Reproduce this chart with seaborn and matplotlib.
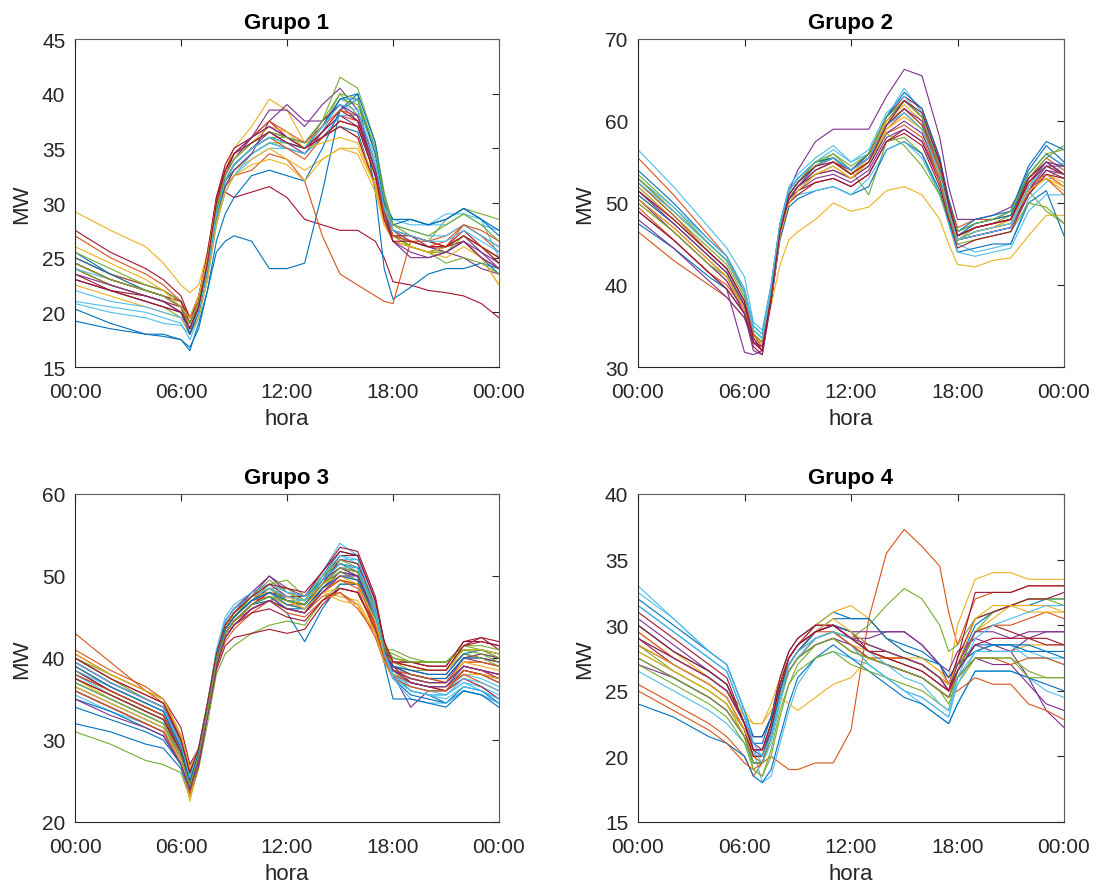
import matplotlib
matplotlib.use("Agg")
import matplotlib.pyplot as plt
import seaborn as sns
import pandas as pd

# ---------------- data ----------------
horas = [0, 2, 4, 5, 6, 6.5, 7, 7.5, 8, 8.5, 9, 10, 11, 12, 13, 14, 15, 16, 17, 17.5, 18, 19, 20, 21, 22, 23, 24]
tick_pos = [0, 6, 12, 18, 24]
tick_labels = ["00:00", "06:00", "12:00", "18:00", "00:00"]
titulos = ["Grupo 1", "Grupo 2", "Grupo 3", "Grupo 4"]

grupo1 = [
    [25.5, 23.5, 22.5, 22, 21, 19.5, 21, 24.5, 29, 32, 33, 34.5, 35.5, 35, 34.5, 36, 37, 36.5, 31.5, 28.5, 27, 26.5, 26, 25.5, 26.5, 25, 23.5],
    [27, 25, 23.5, 22.5, 21, 19.5, 21.5, 25.5, 30, 32.5, 34, 35.5, 36.5, 36, 35, 36.5, 38, 37.5, 33, 29.5, 27.5, 27, 26.5, 27, 28, 27, 25.5],
    [29.2, 27.5, 26, 24.5, 22.5, 21.8, 22.5, 25.5, 30, 33, 35, 37, 39.5, 38.5, 35.5, 36, 37, 36, 32, 28.5, 27, 26, 25.5, 26, 26.5, 25, 22.5],
    [24, 22.5, 21.5, 21, 20, 18, 20.5, 24.5, 29.5, 32.5, 34, 36, 38.5, 38.5, 37, 39, 40.5, 38.5, 33.5, 30, 27.5, 27, 26, 25.5, 25, 24, 23.5],
    [23, 22, 21, 20.5, 19.5, 18, 20, 24, 29, 32, 33.5, 35, 36, 36, 35, 37.5, 41.5, 40.5, 35.5, 31, 28, 27, 26.5, 28.5, 29.5, 29, 28.5],
    [20.8, 20, 19.5, 19, 18.8, 18, 19.5, 23, 28, 31, 32.5, 34, 35, 35, 34.5, 36.5, 39.5, 39.5, 34.5, 30, 28.5, 28.5, 28, 29, 29, 28, 27.5],
    [27.5, 25.5, 24, 23, 21.5, 19.5, 21.5, 25, 30, 31, 30.5, 31, 31.5, 30.5, 28.5, 28, 27.5, 27.5, 26.5, 25, 22.8, 22.5, 22, 21.8, 21.5, 20.8, 19.5],
    [20.3, 19, 18, 18, 17.5, 16.5, 19, 22, 25.5, 26.5, 27, 26.5, 24, 24, 24.5, 31, 38.5, 40, 31, 24, 21.2, 22.3, 23.5, 24, 24, 24.5, 24],
    [24, 22.5, 21.5, 21, 20, 18.5, 20.5, 24, 29, 31.5, 32.5, 33, 34.5, 34, 32, 27, 23.5, 22.5, 21.5, 21, 20.8, 26.5, 26.5, 26, 27, 26, 25],
    [25, 23.5, 22, 21.5, 20.5, 19, 20.5, 23.5, 28.5, 31.5, 33, 34, 35, 34, 33, 34, 35, 34.5, 31, 28, 27, 26, 25.5, 25, 26, 25, 22.5],
    [24.5, 23, 22, 21.5, 20.5, 18.5, 20.5, 24, 29, 32, 33.5, 35, 36.5, 35.5, 34.5, 36.5, 38, 37, 32.5, 29, 27.5, 26.5, 26, 26, 27, 25.5, 24],
    [24, 22.5, 21.5, 21, 20, 18.5, 20.5, 23.5, 28.5, 31.5, 33, 34.5, 35.5, 35.5, 35, 37, 39.5, 39, 34.5, 30, 27.5, 26, 25.5, 24.5, 25, 24.5, 23.5],
    [21, 20.5, 20, 19.5, 19, 17.5, 19.5, 23, 28, 31, 32.5, 34.5, 35.5, 35, 34.5, 36, 38, 38, 33.5, 29.5, 28.5, 28, 28, 28, 29, 28.5, 25],
    [23.5, 22, 21.5, 21, 20.5, 19.5, 21, 25, 30.5, 33.5, 35, 36, 37, 36, 35, 36, 37, 36, 31.5, 28.5, 26.5, 26, 25.5, 26, 26.5, 25, 24],
    [19.2, 18.5, 18, 17.8, 17.5, 16.8, 18.5, 22, 26.5, 29, 30.5, 32.5, 33, 32.5, 32, 35, 38.5, 39.5, 34.5, 30, 28.5, 28.5, 28, 28.5, 29.5, 28.5, 27],
    [25, 23.5, 22.5, 22, 21, 19, 21, 24.5, 29.5, 32, 33.5, 35, 36, 35, 34, 36, 37.5, 37, 32.5, 29, 27, 26.5, 26, 26, 28, 27, 26],
    [22.5, 21.5, 20.5, 20, 19.5, 18, 19.5, 23, 28, 31, 32.5, 33.5, 34, 33.5, 32, 34, 35, 35, 31.5, 28.5, 26.5, 26, 25.5, 25.5, 26.5, 25, 24],
    [23, 22, 21, 20.5, 20, 18, 20, 24, 29, 31.5, 33, 34.5, 37.5, 39, 37.5, 37.5, 39, 37.5, 32.5, 29, 26.5, 25, 25, 25.5, 26.5, 25, 24],
    [25.5, 24, 22.5, 22, 21, 19, 20.5, 24, 29, 32, 33.5, 35, 36, 35.5, 35, 37, 40, 38, 32.5, 29, 27, 26, 25.5, 25.5, 27, 26, 25],
    [24, 23, 22, 21.5, 20.5, 19, 21, 24.5, 30, 32.5, 34, 35.5, 36.5, 36, 35, 37, 39.5, 39.5, 35, 30.5, 28, 27.5, 27, 27, 28, 27, 26],
    [24.5, 23, 22, 21.5, 21, 19, 21, 25.5, 30.5, 33, 34.5, 36, 37.5, 36, 35, 36.5, 38.5, 37.5, 33, 29, 27, 27, 26.5, 26, 27.5, 26, 25],
    [25, 23.5, 22, 21.5, 20.5, 18, 20, 24, 29, 32, 33.5, 35, 36, 35.5, 35, 37, 39.5, 40, 35.5, 30.5, 28, 28.5, 28, 28.5, 29.5, 28.5, 27.5],
    [24.5, 23, 22, 21.5, 20.5, 18.5, 20.5, 24.5, 30, 33, 34.5, 36, 37.5, 36.5, 35.5, 37, 38.5, 38, 33, 29, 27, 26.5, 26, 26.5, 28, 27.5, 26.5],
    [26, 24.5, 23, 22, 20.5, 19.5, 21.5, 25, 30, 32.5, 34, 35.5, 37, 36.5, 35, 35.5, 36, 35.5, 31.5, 28, 26.5, 26, 25.5, 26, 27, 26, 24.5],
    [23.5, 22.5, 21.5, 21, 20, 18.5, 20.5, 24.5, 29.5, 32.5, 34.5, 36, 37, 36, 35.5, 37.5, 39, 38, 33, 29.5, 26.5, 25.5, 25, 25.5, 26.5, 25.5, 24.5],
    [24.5, 23, 22, 21.5, 20.5, 19, 21, 24.5, 29.5, 32.5, 34, 35.5, 36.5, 36, 35.5, 37.5, 40, 39.5, 35, 30.5, 28, 27.5, 27, 28, 29, 28, 26.5],
    [22, 21, 20.5, 20, 19.5, 18.5, 20, 24, 29, 32, 33.5, 35, 36, 35.5, 35, 37, 39, 38.5, 34, 29.5, 27.5, 27, 26.5, 26.5, 27.5, 26.5, 25.5],
    [23, 22, 21, 20.5, 20, 18.5, 20.5, 24.5, 30, 33, 34.5, 35.5, 36.5, 35.5, 35, 36, 37.5, 37, 32.5, 28.5, 26.5, 26.5, 26, 26, 27, 26, 24.5],
]

grupo2 = [
    [52, 48, 44, 42, 38, 34.5, 33.5, 39.5, 47, 51.5, 53, 55, 55.5, 54, 55.5, 60, 62.5, 60.5, 55, 50, 46.5, 47.5, 48, 49, 54, 57, 55],
    [55.5, 51, 46, 43.5, 39, 34, 33, 39, 46.5, 51, 52.5, 54.5, 55.5, 54, 56, 60.5, 62.5, 60.5, 55, 50.5, 47, 48, 48, 48.5, 53, 55.5, 54],
    [50, 46.5, 42.5, 40.5, 37, 34, 33, 37.5, 42.5, 45.5, 46.5, 48, 50, 49, 49.5, 51.5, 52, 51, 48, 45, 42.5, 42.2, 43, 43.3, 46, 48.5, 48.5],
    [49, 45.5, 41.5, 39.5, 31.8, 31.5, 32, 39, 47, 51.5, 54, 57.5, 59, 59, 59, 63, 66.3, 65.5, 58, 52, 48, 48, 48.5, 49.5, 53, 55, 53.5],
    [53.5, 49.5, 45, 43, 39, 34.5, 33.5, 39, 46.5, 51, 52.5, 54.5, 56, 54, 51, 57.5, 58, 56, 51, 48, 45.5, 46.5, 47, 48, 51.5, 49, 47.5],
    [56.5, 52, 47, 44.5, 41, 35.5, 34.5, 40, 47.5, 52, 53.5, 55.5, 57, 55, 56, 60.5, 64, 61, 54.5, 49.5, 45, 44, 44.5, 45, 50.5, 52.5, 55],
    [50.5, 47, 43, 41, 37, 32.5, 31.5, 38, 46, 50.5, 51.5, 52.5, 53, 52, 53.5, 57.5, 59, 57.5, 52.5, 48.5, 45.5, 46, 46.5, 47, 51.5, 54, 53],
    [47.5, 44.5, 41, 39.5, 36.5, 33, 32.5, 38, 45.5, 49.5, 50.5, 51.5, 52, 51, 52, 56.5, 57.5, 56, 51.5, 47.5, 44, 44.5, 45, 45, 50, 51.5, 46],
    [46.5, 43, 40, 38.5, 36, 33, 32, 38.5, 46.5, 50.5, 52, 54, 55, 53.5, 55, 59, 61, 59, 53.5, 49, 46, 47, 47.5, 48, 52, 53.5, 52],
    [51, 47.5, 43.5, 41.5, 37.5, 33.5, 32.5, 39, 47, 51, 52.5, 54.5, 55.5, 54, 56, 60, 61.5, 59.5, 53.5, 49, 45.5, 46.5, 47, 48, 52.5, 53, 51.5],
    [48, 44.5, 40.5, 38.5, 36, 33, 32.5, 38.5, 46, 50, 51.5, 53, 53.5, 52.5, 54, 58, 59, 57.5, 53, 48.5, 45.5, 46, 46.5, 47, 51, 54, 53.5],
    [52.5, 48.5, 44.5, 42.5, 38.5, 34, 33, 39, 46.5, 51, 52.5, 55, 55.5, 53.5, 55.5, 59.5, 61, 59, 52.5, 48.5, 45.5, 47, 47.5, 48.5, 53, 55.5, 57],
    [51.5, 48, 44, 42, 38, 34, 33, 38.5, 46, 50.5, 51, 51.5, 52, 51, 53, 56.5, 57.5, 55.5, 51, 47.5, 44, 43.5, 44, 44.5, 49, 51, 51],
    [53, 49, 45, 43, 39, 34, 33, 39.5, 47, 51, 52.5, 54.5, 55.5, 54, 56, 60.5, 63, 61.5, 55.5, 50, 46, 47, 47.5, 48, 53, 55, 53.5],
    [54, 50, 45.5, 43.5, 39.5, 35, 34, 40, 47.5, 51.5, 53, 55, 55.5, 54, 56, 60.5, 63.5, 61.5, 55.5, 50.5, 46.5, 48, 48.5, 49, 54.5, 57.5, 56.5],
    [49.5, 45.5, 41.5, 40, 37, 33.5, 32.5, 38.5, 46, 50.5, 52, 53.5, 54, 53, 54.5, 58.5, 59.5, 58, 53, 49, 45.5, 46.5, 47, 47.5, 51.5, 53, 51],
    [52, 48, 44, 42, 38, 34, 33, 39, 46.5, 50.5, 52, 54, 55, 53.5, 55.5, 60, 62, 60, 54, 49.5, 46, 47, 47.5, 48, 52, 53.5, 52.5],
    [50.5, 46.5, 42.5, 40.5, 36.5, 32, 31.5, 38, 46, 50.5, 52, 53.5, 54, 53, 54.5, 58.5, 60, 58.5, 53.5, 49, 45.5, 46, 46.5, 47, 51.5, 54.5, 54.5],
    [50, 46.5, 42.5, 41, 37.5, 34, 33, 38.5, 46, 50, 51.5, 53.5, 54.5, 53, 55, 58.5, 57, 54.5, 51, 48, 45, 45.5, 46, 46.5, 50, 49.5, 47.5],
    [53, 49.5, 45.5, 43.5, 39.5, 35, 34, 40, 47.5, 51.5, 53, 55, 56.5, 55, 56.5, 61, 63, 60.5, 54.5, 49.5, 45.5, 46, 46.5, 47, 52, 55, 54.5],
    [49, 45.5, 41.5, 39.5, 36.5, 33, 32, 38.5, 46, 50, 51, 52.5, 53, 52, 53.5, 57.5, 58.5, 57, 52, 48, 44.5, 45.5, 46, 46.5, 51, 53.5, 53],
    [51, 47.5, 43.5, 41.5, 37.5, 33.5, 32.5, 38.5, 46, 50.5, 52, 54.5, 55.5, 54, 55.5, 59.5, 61.5, 59.5, 54, 49.5, 46, 47.5, 48, 48.5, 53.5, 56, 54.5],
    [52.5, 48.5, 44, 42, 38, 34, 32.5, 38.5, 46, 50.5, 52, 54, 55, 53.5, 55, 59.5, 61.5, 59.5, 54, 49.5, 46, 47, 47.5, 48, 52.5, 54.5, 53.5],
    [50.5, 47, 43, 41, 37, 33.5, 32.5, 38.5, 46, 50, 51.5, 53.5, 54.5, 53, 55, 59, 60.5, 59, 53.5, 49, 45.5, 46.5, 47, 47.5, 51.5, 53, 52],
    [51.5, 47.5, 43.5, 41.5, 37.5, 33, 32.5, 38.5, 46.5, 50.5, 52, 54, 55, 54, 55.5, 59.5, 61.5, 60, 54.5, 49.5, 46, 47, 47.5, 48, 52.5, 55, 54.5],
    [53, 49, 45, 43, 39, 34.5, 33.5, 39.5, 47, 51, 52.5, 55, 56, 54.5, 56, 60.5, 62.5, 60.5, 54.5, 50, 46.5, 47.5, 48, 49, 53.5, 56, 56.5],
    [52.5, 49, 45, 43, 39, 34.5, 33.5, 39.5, 47, 51, 52.5, 54.5, 55.5, 54, 55.5, 59.5, 61, 59, 53.5, 49, 45.5, 46.5, 47, 47.5, 52, 54.5, 53.5],
    [51.5, 48, 44, 42, 38, 33.5, 32, 38.5, 46.5, 51, 52.5, 54.5, 55, 53.5, 55, 59.5, 62.5, 61, 55, 50, 46, 47, 47.5, 48, 52.5, 54.5, 53.5],
]

grupo3 = [
    [36, 34, 32, 31, 27.5, 24, 27.5, 33, 39, 43, 44.5, 46.5, 47, 46, 46, 48.5, 50, 49.5, 44, 40, 38, 37, 36.5, 36.5, 38.5, 38, 37.5],
    [43, 39.5, 36, 34.5, 30, 26, 28.5, 34, 40, 43.5, 45, 47, 47.5, 46.5, 46.5, 49, 50.5, 50, 44.5, 40.5, 39, 38, 37.5, 37.5, 40, 40, 39.5],
    [38.5, 36, 34, 33, 28.5, 22.5, 27, 33.5, 40, 44, 45.5, 47.5, 48, 47, 47, 49.5, 51, 50.5, 45, 41, 39, 38, 37.5, 37.5, 40, 40.5, 40],
    [37, 35, 33, 32, 27.5, 24.5, 28, 34, 40.5, 44, 45.5, 48, 50, 48, 47.5, 50, 51.5, 50.5, 45, 40.5, 38, 34, 36, 36, 38.5, 38, 37],
    [31, 29.5, 27.5, 27, 26, 23, 26.5, 32, 38, 40.5, 41.5, 43, 44, 44.5, 44, 47, 49, 49, 44.5, 41, 40.5, 39.5, 39.5, 39.5, 41, 41, 40.5],
    [35.5, 33.5, 32, 31, 27.5, 24, 28, 33.5, 39.5, 43.5, 45, 47, 48, 47, 46.5, 49.5, 52.5, 51.5, 45, 40, 38, 36, 35.5, 35.5, 37, 36, 35],
    [40.5, 38, 36, 35, 31.5, 27, 29, 34, 39.5, 42.5, 44, 46, 47, 47.5, 47, 49.5, 52.5, 52.5, 47, 42, 39.5, 39.5, 39, 39, 42, 42.5, 41],
    [32, 31, 29.5, 29, 26.5, 23.5, 27, 33, 39, 42.5, 44, 46, 47, 45.5, 42, 46, 49, 49, 44, 40.5, 38, 36, 35.5, 34.5, 36, 35.5, 34.5],
    [40, 37.5, 35.5, 34.5, 30.5, 26.5, 28.5, 34, 40, 43.5, 45, 47, 48, 47, 46.5, 48.5, 49.5, 49, 44, 40, 38, 37, 36.5, 36, 38.5, 38, 37.5],
    [37.5, 35, 33, 32, 28, 24, 28, 34, 40, 43.5, 45.5, 47, 48.5, 47, 46, 48, 48.5, 48, 43.5, 40, 38, 37.5, 37, 37, 39.5, 39.5, 39],
    [39, 36.5, 34.5, 33.5, 29, 25.5, 28.5, 34, 40, 44, 45.5, 47.5, 50, 48.5, 47.5, 49.5, 51.5, 51, 45.5, 41, 39, 38, 37.5, 37.5, 40, 39.5, 39],
    [39.5, 37, 35, 34, 29.5, 25, 28, 33.5, 39.5, 43.5, 45, 47, 48.5, 48.5, 47, 49.5, 51, 50, 45, 41, 40, 39.5, 39.5, 39.5, 41.5, 41, 40],
    [38, 35.5, 33.5, 32.5, 28, 24.5, 28, 34, 40.5, 44.5, 46, 47.5, 48, 47, 47, 49.5, 52, 52, 46, 41, 38.5, 36.5, 36, 35.5, 37, 36.5, 35.5],
    [36.5, 34.5, 32.5, 31.5, 27.5, 23.5, 27, 33, 38.5, 41.5, 42.5, 43, 43.5, 43, 43.5, 46.5, 48.5, 48, 43.5, 40, 38.5, 37.5, 37, 37, 39, 38.5, 37.5],
    [35, 33.5, 31.5, 30.5, 27, 24, 28.5, 34.5, 40.5, 44.5, 46, 47.5, 48.5, 47.5, 47, 50, 53, 52.5, 45.5, 40, 37.5, 35.5, 35, 34.5, 36.5, 36, 34.5],
    [41, 38.5, 36.5, 35, 30.5, 26, 28.5, 34, 40, 43, 44.5, 46.5, 47.5, 46, 45.5, 48, 49.5, 48.5, 43, 39.5, 38.5, 38, 37.5, 37, 39.5, 39.5, 39],
    [36, 34, 32, 31, 27.5, 24, 28, 33.5, 39.5, 43, 44.5, 46.5, 47.5, 46.5, 46, 48, 47.5, 47, 43, 39.5, 37.5, 36.5, 36, 36, 38, 38, 37.5],
    [38.5, 36, 34, 33, 28.5, 25, 28.5, 34, 40, 43.5, 45, 47, 48.5, 47, 46.5, 49, 51, 50, 44.5, 40.5, 38.5, 37.5, 37, 37, 40, 40.5, 40],
    [40, 37.5, 35, 34, 29.5, 25.5, 28.5, 34, 40, 43.5, 45, 47, 49, 49.5, 47.5, 50, 51.5, 50.5, 45, 41, 41, 40, 39.5, 39.5, 41, 41, 40],
    [37, 35, 33, 32, 28, 24.5, 28.5, 34, 40, 44, 45.5, 47.5, 48.5, 47.5, 47.5, 50.5, 54, 52.5, 45.5, 40.5, 38, 36.5, 36, 36, 38, 37.5, 36.5],
    [39.5, 37, 35, 34, 30, 26, 28.5, 34, 40, 43.5, 45, 47, 48, 47.5, 47.5, 50.5, 53.5, 53, 47.5, 42, 39.5, 39, 38.5, 38.5, 41.5, 42.5, 42],
    [38, 36, 34, 33, 28.5, 24.5, 28, 33.5, 39.5, 43, 44.5, 46.5, 47.5, 46, 45.5, 48.5, 50.5, 50, 44.5, 40.5, 39, 38, 37.5, 37.5, 40, 40, 39.5],
    [37.5, 35.5, 33.5, 32.5, 28, 24, 28, 33.5, 39.5, 43, 44.5, 46, 47, 45.5, 45, 47, 48, 46.5, 42.5, 39.5, 38, 37, 36.5, 36.5, 38, 37, 36],
    [39, 36.5, 34.5, 33.5, 29, 25, 28.5, 34.5, 40.5, 44.5, 46, 48, 49, 47.5, 46.5, 48.5, 49.5, 49, 44.5, 40.5, 38.5, 37.5, 37, 37, 39.5, 39, 38.5],
    [36, 34, 32, 31, 27, 23.5, 27, 33, 39, 42.5, 44, 46, 47, 46, 45.5, 48.5, 50.5, 50, 45, 41, 39, 38.5, 38, 38, 40.5, 40, 39.5],
    [37.5, 35.5, 33.5, 32.5, 28.5, 24.5, 28, 34, 40, 44, 45.5, 47.5, 48.5, 47, 46.5, 49, 50.5, 49.5, 44.5, 41, 39.5, 38.5, 38.5, 38.5, 40.5, 40, 39],
    [36.5, 34.5, 32.5, 31.5, 27.5, 24, 28, 33.5, 40, 44, 45.5, 47, 48, 47, 46.5, 49, 51, 51, 45, 40.5, 37.5, 35, 34.5, 34.5, 36, 35.5, 34.5],
    [38.5, 36, 34, 33, 29, 25, 28.5, 34, 39.5, 43, 44.5, 46.5, 48, 47, 46.5, 49, 52, 51.5, 46.5, 41.5, 39, 37, 36.5, 36, 37.5, 36.5, 35],
    [34, 32.5, 31, 30, 27, 24, 28, 34, 40, 44, 45.5, 47.5, 48, 46.5, 46, 48.5, 50, 49.5, 44, 39.5, 35, 35, 34.5, 34, 36, 35.5, 34],
    [38, 36, 34, 33, 29, 25.5, 28.5, 34, 39, 42, 43.5, 45.5, 47, 46, 45.5, 47.5, 48, 46, 43, 40, 38.5, 38, 37.5, 37, 39, 38.5, 38],
    [36.5, 34.5, 32.5, 31.5, 27.5, 23, 27.5, 33.5, 40, 44, 45.5, 47.5, 48, 47, 46, 48, 47, 46.5, 43, 39.5, 38, 37.5, 37, 37, 39, 38.5, 38],
    [39.5, 37, 35, 34, 29.5, 26, 29, 34.5, 40.5, 44.5, 46, 48, 49, 47.5, 47, 49.5, 51, 50.5, 45.5, 41, 38.5, 37, 36.5, 36.5, 39, 38.5, 38],
    [40, 38, 36, 35, 30.5, 26.5, 29, 34.5, 40, 43.5, 45, 47.5, 49.5, 48, 47, 50, 52, 51, 46, 41.5, 40, 39.5, 39.5, 39.5, 41.5, 41.5, 41],
    [38.5, 36.5, 34.5, 33.5, 29, 25, 28.5, 34.5, 41, 45, 46.5, 48, 49, 48, 47.5, 50, 52.5, 52, 46.5, 41, 38, 36, 35.5, 35, 36.5, 36, 35],
    [37.5, 35.5, 33.5, 32.5, 28.5, 24.5, 28, 33.5, 39, 42.5, 44, 45.5, 46, 45, 44.5, 47, 48.5, 48, 44, 40.5, 39.5, 39.5, 39, 39, 42, 42, 41.5],
    [39, 36.5, 34.5, 33.5, 29, 25, 28.5, 34, 40, 43.5, 45, 47, 48, 47, 46.5, 49.5, 51.5, 51, 45.5, 41, 39, 38.5, 38, 38, 40.5, 41, 40.5],
    [36, 34, 32, 31, 27, 23.5, 27.5, 33, 39, 42.5, 44, 46, 47, 46, 45.5, 48, 49.5, 49, 44, 40, 37.5, 36.5, 36, 36, 38.5, 38, 37],
    [40.5, 38, 36, 35, 30.5, 26.5, 29, 34.5, 40.5, 44, 45.5, 47.5, 48.5, 47.5, 47, 49, 50, 49, 44.5, 40.5, 39.5, 39, 38.5, 38.5, 41, 41, 40.5],
    [35, 33, 31.5, 30.5, 27, 24, 27.5, 33, 39, 42.5, 44, 46, 47, 46, 45.5, 48, 50, 50, 45.5, 41, 38.5, 37.5, 37, 37, 39, 38.5, 38],
    [37, 35, 33, 32, 28, 24.5, 28, 33.5, 39.5, 43, 44.5, 46.5, 47.5, 47, 46.5, 49, 51, 50.5, 45.5, 41, 40, 39.5, 39.5, 39.5, 41, 40.5, 39.5],
    [39.5, 37, 35, 34, 29.5, 25.5, 29, 34.5, 40.5, 44.5, 46, 47.5, 48.5, 47.5, 47, 49.5, 51.5, 51, 45.5, 40.5, 37.5, 36, 35.5, 35.5, 37.5, 37, 36],
    [40, 37.5, 35.5, 34.5, 30, 26, 29, 34.5, 40.5, 44, 45.5, 47.5, 49, 48.5, 48, 50.5, 53, 52.5, 47, 42, 39.5, 39, 38.5, 38.5, 41.5, 42, 41.5],
]

grupo4 = [
    [31.5, 29.5, 27.5, 26.5, 23, 21, 21, 23, 26, 28, 29, 30, 31, 30.5, 30.5, 29, 28.5, 28, 27, 26, 27, 30, 31, 31.5, 31.5, 32, 32],
    [25.5, 24, 22.5, 21.5, 20, 18.5, 19.5, 20, 19.5, 19, 19, 19.5, 19.5, 22, 30.5, 35.5, 37.3, 36, 34.5, 31, 28.5, 32, 32.5, 32.5, 33, 33, 33],
    [30, 28, 26, 25, 23.5, 22.5, 22.5, 24, 26, 27.5, 28.5, 30, 31, 31.5, 30.5, 29, 28, 27.5, 26.5, 26, 30, 33.5, 34, 34, 33.5, 33.5, 33.5],
    [27, 26, 24.5, 23.5, 21.5, 20, 20, 22, 25, 27, 28, 29, 29.5, 29, 29, 29.5, 29.5, 28.5, 27, 26.5, 28, 29, 28.5, 28, 26, 23.5, 22.2],
    [28.5, 26.5, 25, 24, 22, 19.5, 19.5, 21.5, 24.5, 26.5, 27.5, 29, 29.5, 29, 30, 31.5, 32.8, 32, 30, 28, 28.5, 30.5, 31, 31.5, 32, 32, 31.5],
    [33, 30.5, 28, 27, 23.5, 20.5, 18, 18.5, 21, 23.5, 25.5, 27.5, 28, 27.5, 27, 26, 25, 24, 23, 22.5, 24, 26.5, 26.5, 26.5, 26, 25, 24.5],
    [31, 29, 27, 26, 22.5, 21.5, 21.5, 23, 26, 28, 29, 30, 30, 29.5, 28, 27.5, 27.5, 27, 26, 25, 27.5, 32.5, 32.5, 32.5, 33, 33, 33],
    [24, 23, 21.5, 21, 20, 18.5, 18, 19, 21.5, 24, 26, 27.5, 28.5, 27.5, 26.5, 25.5, 24.5, 24, 23, 22.5, 24, 26.5, 26.5, 26.5, 26, 25.5, 25],
    [25, 23.5, 22, 21, 19.5, 19, 19.5, 21.5, 24.5, 26.5, 27.5, 28.5, 29, 28, 27.5, 27, 26.5, 26, 25, 24.5, 25, 26, 25.5, 25.5, 24, 23.5, 22.8],
    [29.5, 27.5, 26, 25, 23, 22.5, 22.5, 23.5, 24.5, 24, 23.5, 24.5, 25.5, 26, 27.5, 27.5, 27.5, 27, 26, 25.5, 27, 28, 28, 28, 28.5, 28.5, 28.5],
    [30.5, 28.5, 26.5, 25.5, 22.5, 21, 20.5, 22, 25, 27, 28, 29.5, 30, 29.5, 29.5, 29.5, 29.5, 28.5, 27, 25.5, 27, 28.5, 28, 28, 29, 29.5, 29.5],
    [28, 26.5, 25, 24, 21.5, 19, 18.5, 20, 23, 25.5, 27, 28.5, 29, 28, 27.5, 27, 26.5, 26, 25, 24, 25.5, 27.5, 27.5, 27.5, 26, 26, 26],
    [26.5, 25, 23.5, 22.5, 21, 19.5, 19.5, 21.5, 24.5, 26.5, 27.5, 29, 29.5, 28.5, 27, 26, 25, 24.5, 23.5, 23, 26, 28, 28.5, 28.5, 27.5, 27.5, 27],
    [29, 27, 25.5, 24.5, 22, 20, 20, 22, 25, 27, 28, 29.5, 30, 29, 28, 27.5, 27, 26.5, 25.5, 25, 26.5, 29.5, 30, 29.5, 29, 29, 28.5],
    [32, 30, 28, 27, 23.5, 21.5, 21.5, 23, 25.5, 27.5, 28.5, 29.5, 30.5, 30.5, 30.5, 29, 28, 27.5, 27, 26, 27, 28, 28.5, 28.5, 28.5, 28, 28],
    [29.5, 27.5, 26, 25, 22.5, 20, 19.5, 21.5, 24.5, 26.5, 27.5, 29, 29.5, 28.5, 27.5, 27, 26.5, 26, 25, 24.5, 26.5, 29.5, 30, 30, 30.5, 31, 30.5],
    [28, 26.5, 25, 24, 21.5, 20, 20, 22, 25, 27, 28, 29, 29.5, 28.5, 28, 27.5, 27.5, 27.5, 26.5, 25.5, 27, 29.5, 30.5, 31.5, 31.5, 31.5, 31],
    [27.5, 26, 24.5, 23.5, 21.5, 19.5, 19.5, 21.5, 24.5, 26.5, 27.5, 28.5, 29, 28.5, 27.5, 27, 26.5, 26, 25, 24.5, 26, 27.5, 27, 27, 25.5, 24, 23.5],
    [27, 25.5, 24, 23, 21, 19, 18.5, 20.5, 23.5, 25.5, 26.5, 27.5, 28, 27, 26.5, 26, 25.5, 25, 24, 23.5, 26.5, 29.5, 31, 31.5, 32, 32, 32],
    [31.5, 29.5, 27.5, 26.5, 23, 20.5, 19.5, 21, 24, 26.5, 27.5, 29, 29.5, 28.5, 27, 26, 25, 24.5, 23.5, 23, 25.5, 28, 28, 28, 28, 27.5, 27.5],
    [28.5, 27, 25.5, 24.5, 22, 20, 20, 22, 25, 27.5, 28.5, 30, 30, 29, 28, 28, 27.5, 27, 26, 25.5, 27.5, 30.5, 31, 31.5, 32, 32, 32.5],
    [30, 28, 26.5, 25.5, 22.5, 20.5, 20, 22, 25, 27, 28, 29.5, 30, 29.5, 28.5, 28, 27.5, 27, 26, 25, 26.5, 28.5, 28.5, 28.5, 28, 28, 27.5],
    [29, 27.5, 26, 25, 22.5, 20.5, 20.5, 22.5, 25.5, 27.5, 28.5, 29.5, 29.5, 28.5, 27.5, 27.5, 27.5, 27, 26, 25, 26, 27.5, 27.5, 27, 27.5, 27.5, 27],
    [28.5, 27, 25.5, 24.5, 22, 20.5, 20.5, 22.5, 25.5, 27.5, 28.5, 29.5, 30.5, 29.5, 28.5, 28, 27.5, 27, 26, 25.5, 27, 30.5, 31.5, 31.5, 31, 31, 31],
    [29, 27.5, 26, 25, 22.5, 20.5, 20.5, 22.5, 25.5, 27.5, 28.5, 29.5, 30, 29, 28.5, 28, 27.5, 27, 26, 25, 27, 29.5, 29.5, 29, 29.5, 29.5, 29.5],
    [27.5, 26, 24.5, 23.5, 21.5, 19.5, 19.5, 21.5, 24.5, 26.5, 27.5, 28.5, 29, 28, 27.5, 27, 26.5, 26, 25, 24.5, 26, 27.5, 27.5, 27.5, 26.5, 26, 26],
    [32.5, 30.5, 28, 27, 23.5, 21, 20, 21.5, 24.5, 27, 28, 29, 29.5, 29, 28, 27, 26, 25.5, 24, 23.5, 26, 29, 30, 30.5, 31, 31.5, 31.5],
    [30, 28, 26.5, 25.5, 22.5, 20.5, 20.5, 22.5, 25.5, 27.5, 28.5, 29.5, 30, 29, 28, 27.5, 27, 26.5, 25.5, 25, 26.5, 28.5, 29, 29, 29, 28.5, 28.5],
]

ylims = [(15, 45), (30, 70), (20, 60), (15, 40)]
yticks = [[15, 20, 25, 30, 35, 40, 45], [30, 40, 50, 60, 70], [20, 30, 40, 50, 60], [15, 20, 25, 30, 35, 40]]

colores = ["#0072BD", "#D95319", "#EDB120", "#7E2F8E", "#77AC30", "#4DBEEE", "#A2142F"]

# ---------------- style ----------------
sns.set_theme(style="white")
plt.rcParams["font.family"] = ["Liberation Sans", "DejaVu Sans"]
txt = "#262626"

fig = plt.figure(figsize=(11, 8.87), dpi=100)
W, H = 1100, 887
boxes = [(75, 40, 499, 368), (638, 40, 1064, 368), (75, 495, 499, 823), (638, 495, 1064, 823)]
grupos = [grupo1, grupo2, grupo3, grupo4]

for k in range(4):
    x0, y0, x1, y1 = boxes[k]
    ax = fig.add_axes([x0 / W, 1 - y1 / H, (x1 - x0) / W, (y1 - y0) / H])
    lineas = grupos[k]
    rows_h, rows_v, rows_id = [], [], []
    for i, serie in enumerate(lineas):
        rows_h += horas
        rows_v += serie
        rows_id += [f"L{i:03d}"] * len(horas)
    df = pd.DataFrame({"hora": rows_h, "MW": rows_v, "linea": rows_id})
    orden = [f"L{i:03d}" for i in range(len(lineas))]
    pal = {name: colores[i % len(colores)] for i, name in enumerate(orden)}
    sns.lineplot(data=df, x="hora", y="MW", hue="linea", hue_order=orden, palette=pal,
                 legend=False, linewidth=0.8, ax=ax, estimator=None)
    ax.set_xlim(0, 24)
    ax.set_ylim(*ylims[k])
    ax.set_xticks(tick_pos)
    ax.set_xticklabels(tick_labels)
    ax.set_yticks(yticks[k])
    ax.tick_params(direction="in", top=True, right=True, length=5, width=0.8,
                   colors=txt, labelsize=15)
    ax.tick_params(axis="x", pad=11)
    ax.tick_params(axis="y", pad=7)
    for s in ["left", "bottom"]:
        ax.spines[s].set_color(txt)
        ax.spines[s].set_linewidth(0.8)
    for s in ["top", "right"]:
        ax.spines[s].set_color("#5a5a5a")
        ax.spines[s].set_linewidth(0.8)
    ax.set_xlabel("hora", fontsize=16, color=txt, labelpad=5)
    ax.set_ylabel("MW", fontsize=16, color=txt, labelpad=7)
    ax.set_title(titulos[k], fontsize=16, fontweight="bold", color="black", pad=8)
    ax.set_facecolor("white")

fig.savefig("out.png", dpi=100, facecolor="white")
